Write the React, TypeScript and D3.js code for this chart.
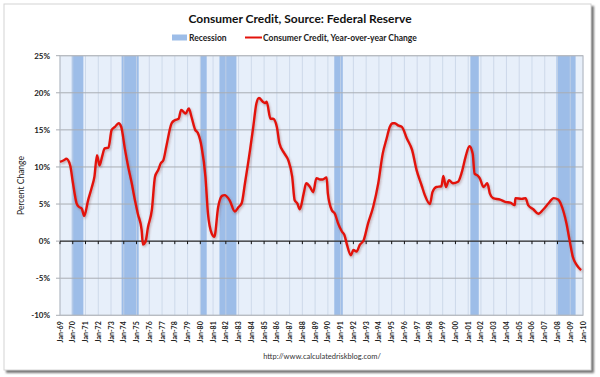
import React from "react";
import * as d3 from "d3";

const title = "Consumer Credit, Source: Federal Reserve";
const legendRecession = "Recession";
const legendSeries = "Consumer Credit, Year-over-year Change";
const yAxisTitle = "Percent Change";
const sourceText = "http://www.calculatedriskblog.com/";

const yTicks = [-10, -5, 0, 5, 10, 15, 20, 25];
const xYears = d3.range(1969, 2011);

// recession periods (decimal years)
const recessionStart = [1969.92, 1973.83, 1980.0, 1981.5, 1990.5, 2001.17, 2007.92];
const recessionEnd = [1970.83, 1975.17, 1980.5, 1982.83, 1991.17, 2001.83, 2009.42];

// consumer credit YoY % change
const creditYears = [
  1969.0, 1969.3, 1969.5, 1969.8, 1970.0, 1970.3, 1970.5, 1970.7, 1970.9, 1971.2,
  1971.5, 1971.7, 1971.9, 1972.1, 1972.3, 1972.5, 1972.8, 1973.05, 1973.3, 1973.6,
  1973.8, 1974.1, 1974.35, 1974.6, 1974.9, 1975.1, 1975.4, 1975.5, 1975.7, 1975.9,
  1976.2, 1976.45, 1976.7, 1976.9, 1977.1, 1977.35, 1977.75, 1978.0, 1978.3, 1978.5,
  1978.85, 1979.1, 1979.3, 1979.6, 1979.8, 1980.1, 1980.4, 1980.6, 1980.9, 1981.1,
  1981.4, 1981.7, 1981.9, 1982.3, 1982.7, 1983.0, 1983.24, 1983.5, 1983.9, 1984.15,
  1984.4, 1984.6, 1984.9, 1985.1, 1985.2, 1985.5, 1985.7, 1986.0, 1986.2, 1986.6,
  1986.9, 1987.2, 1987.4, 1987.6, 1987.8, 1988.1, 1988.3, 1988.6, 1988.85, 1989.1,
  1989.4, 1989.6, 1989.9, 1990.0, 1990.3, 1990.55, 1990.8, 1991.1, 1991.3, 1991.5,
  1991.8, 1992.0, 1992.25, 1992.5, 1992.8, 1993.15, 1993.55, 1993.95, 1994.3, 1994.6,
  1994.85, 1995.1, 1995.25, 1995.5, 1995.8, 1996.2, 1996.6, 1996.95, 1997.35, 1997.6,
  1998.0, 1998.2, 1998.5, 1998.9, 1999.05, 1999.25, 1999.5, 1999.8, 2000.2, 2000.5,
  2000.8, 2001.1, 2001.35, 2001.5, 2001.7, 2001.9, 2002.2, 2002.5, 2002.7, 2002.95,
  2003.5, 2003.9, 2004.3, 2004.65, 2004.7, 2005.2, 2005.5, 2005.7, 2006.1, 2006.5,
  2006.9, 2007.3, 2007.7, 2008.05, 2008.3, 2008.7, 2008.95, 2009.2, 2009.5, 2009.85,
];
const creditValues = [
  10.7, 10.9, 11.1, 10.2, 8.0, 5.1, 4.6, 4.4, 3.4, 5.5,
  7.3, 8.7, 11.6, 10.2, 11.4, 12.5, 12.6, 15.0, 15.4, 15.9,
  15.4, 12.3, 10.0, 8.0, 5.3, 3.7, 1.5, -0.45, -0.1, 1.9,
  4.2, 8.7, 9.6, 10.5, 10.9, 12.9, 15.9, 16.3, 16.5, 17.7,
  17.2, 17.9, 16.8, 15.0, 14.6, 12.7, 8.7, 3.7, 1.0, 0.6,
  4.6, 6.1, 6.2, 5.5, 4.0, 4.6, 5.1, 7.8, 12.3, 15.4,
  18.6, 19.3, 18.8, 18.6, 18.8, 16.5, 16.5, 15.4, 13.2, 11.8,
  10.9, 8.7, 5.5, 5.1, 4.3, 6.4, 7.8, 7.3, 6.6, 8.5,
  8.3, 8.3, 8.6, 6.4, 4.2, 3.7, 2.4, 1.3, 0.8, -0.5,
  -1.9, -1.2, -1.4, -0.5, 0.1, 2.4, 4.6, 7.8, 11.8, 13.8,
  15.4, 15.9, 15.9, 15.6, 15.4, 13.8, 12.3, 9.6, 7.5, 6.2,
  5.0, 6.6, 7.3, 7.4, 8.8, 7.3, 8.2, 7.8, 8.0, 9.3,
  11.4, 12.8, 11.8, 9.1, 8.9, 8.5, 7.3, 7.8, 6.4, 5.8,
  5.6, 5.3, 5.2, 4.85, 5.8, 5.7, 5.8, 4.85, 4.3, 3.7,
  4.3, 5.1, 5.8, 5.6, 4.85, 2.4, 0.1, -2.1, -3.2, -3.9,
];

const W = 600;
const H = 377;
const plotL = 60;
const plotR = 583;
const plotT = 55.7;
const plotB = 315.3;
const FONT = "Lato, 'Open Sans', 'Liberation Sans', sans-serif";

export default function App() {
  const x = d3.scaleLinear().domain([1969, 2010]).range([plotL, plotR]);
  const y = d3.scaleLinear().domain([-10, 25]).range([plotB, plotT]);
  const pts = creditYears.map((yr, i) => [yr, creditValues[i]] as [number, number]);
  const line = d3
    .line<[number, number]>()
    .x((d) => x(d[0]))
    .y((d) => y(d[1]))
    .curve(d3.curveMonotoneX);
  const path = line(pts) || "";

  return (
    <svg
      width={W}
      height={H}
      style={{ position: "absolute", left: 0, top: 0, background: "#fff" }}
      fontFamily={FONT}
    >
      <defs>
        <filter id="blur" x="-5%" y="-5%" width="110%" height="110%">
          <feGaussianBlur stdDeviation="1.2" />
        </filter>
        <filter id="lshadow" x="-5%" y="-5%" width="110%" height="110%">
          <feGaussianBlur stdDeviation="0.8" />
        </filter>
      </defs>
      {/* frame with shadow */}
      <rect x={6} y={6} width={588} height={367} fill="#777" filter="url(#blur)" />
      <rect x={4} y={4} width={587} height={366} fill="#fff" stroke="#d4d4d4" strokeWidth={1} />

      {/* title */}
      <text x={300} y={23} textAnchor="middle" fontSize={12} fontWeight="bold" fill="#111">
        {title}
      </text>

      {/* legend */}
      <rect x={172} y={34.5} width={15} height={6} fill="#9dbde8" />
      <text x={189} y={40.5} fontSize={8.5} fontWeight="bold" fill="#222">
        {legendRecession}
      </text>
      <line x1={245} x2={262} y1={37.5} y2={37.5} stroke="#e3120b" strokeWidth={2} />
      <text x={263} y={40.5} fontSize={8.5} fontWeight="bold" fill="#222">
        {legendSeries}
      </text>

      {/* plot background */}
      <rect x={plotL} y={plotT} width={plotR - plotL} height={plotB - plotT} fill="#e7effa" />
      {/* recession bars */}
      {recessionStart.map((s, i) => (
        <rect
          key={"r" + i}
          x={x(s)}
          y={plotT}
          width={x(recessionEnd[i]) - x(s)}
          height={plotB - plotT}
          fill="#9dbde8"
        />
      ))}
      {/* vertical year gridlines */}
      {xYears.map((yr) => (
        <line
          key={"vg" + yr}
          x1={x(yr)}
          x2={x(yr)}
          y1={plotT}
          y2={plotB}
          stroke="#c6d3e6"
          strokeWidth={0.8}
        />
      ))}
      {/* horizontal gridlines */}
      {yTicks.map((t) => (
        <line
          key={"hg" + t}
          x1={plotL}
          x2={plotR}
          y1={y(t)}
          y2={y(t)}
          stroke="#a9adb3"
          strokeWidth={1}
        />
      ))}
      <rect
        x={plotL}
        y={plotT}
        width={plotR - plotL}
        height={plotB - plotT}
        fill="none"
        stroke="#b8bcc2"
        strokeWidth={1}
      />
      {/* zero axis line with ticks */}
      <line x1={plotL} x2={plotR} y1={y(0)} y2={y(0)} stroke="#111" strokeWidth={1} />
      {xYears.map((yr) => (
        <line
          key={"tk" + yr}
          x1={x(yr)}
          x2={x(yr)}
          y1={y(0)}
          y2={y(0) + 3}
          stroke="#111"
          strokeWidth={1}
        />
      ))}
      {/* left axis ticks */}
      {yTicks.map((t) => (
        <line
          key={"yt" + t}
          x1={plotL - 4}
          x2={plotL}
          y1={y(t)}
          y2={y(t)}
          stroke="#a9adb3"
          strokeWidth={1}
        />
      ))}

      {/* series */}
      <path
        d={path}
        fill="none"
        stroke="#7a3a3a"
        strokeOpacity={0.35}
        strokeWidth={2.6}
        transform="translate(1,1.5)"
        filter="url(#lshadow)"
      />
      <path d={path} fill="none" stroke="#e3120b" strokeWidth={2.4} strokeLinejoin="round" />

      {/* y tick labels */}
      {yTicks.map((t) => (
        <text
          key={"yl" + t}
          x={50}
          y={y(t) + 3}
          textAnchor="end"
          fontSize={8}
          fontWeight="bold"
          fill="#222"
        >
          {t + "%"}
        </text>
      ))}
      <text
        transform={`translate(24,${(plotT + plotB) / 2}) rotate(-90)`}
        textAnchor="middle"
        fontSize={8.5}
        fill="#222"
      >
        {yAxisTitle}
      </text>

      {/* x tick labels */}
      {xYears.map((yr) => (
        <text
          key={"xl" + yr}
          transform={`translate(${x(yr) + 2.5},${plotB + 6}) rotate(-90)`}
          textAnchor="end"
          fontSize={7}
          fontWeight="bold"
          fill="#222"
        >
          {"Jan-" + String(yr % 100).padStart(2, "0")}
        </text>
      ))}

      <text x={322} y={359} textAnchor="middle" fontSize={7.5} fill="#333">
        {sourceText}
      </text>
    </svg>
  );
}
